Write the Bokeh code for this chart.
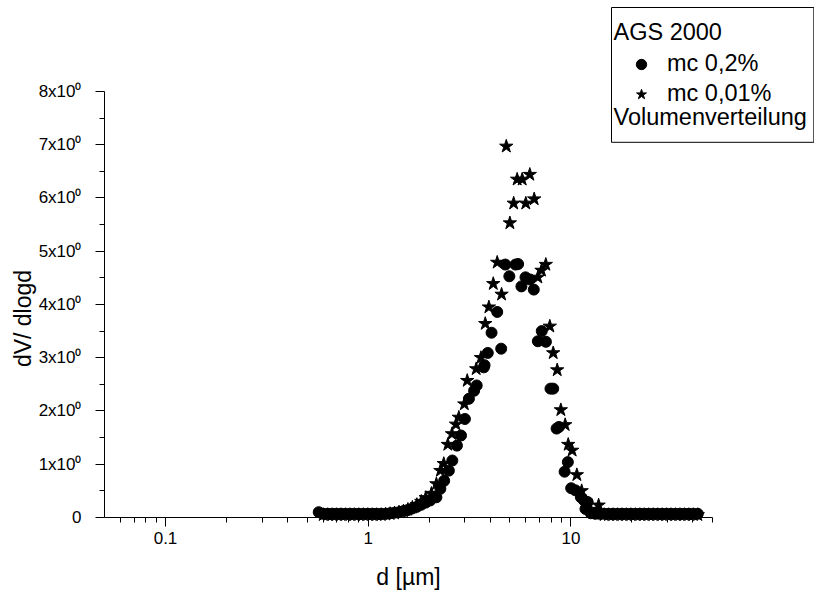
import math
from bokeh.plotting import figure
from bokeh.models import FixedTicker, Range1d, Label, Legend, LegendItem
from bokeh.embed import file_html
from bokeh.resources import INLINE

# ---- data ----
# series "mc 0,2%" (circles)
circle_d = [0.570, 0.600, 0.631, 0.664, 0.698, 0.734, 0.773, 0.813, 0.855, 0.899,
            0.946, 0.995, 1.047, 1.101, 1.159, 1.219, 1.282, 1.349, 1.419, 1.493,
            1.570, 1.652, 1.738, 1.828, 1.923, 2.023, 2.17, 2.27, 2.37, 2.50,
            2.60, 2.74, 2.87, 3.00, 3.14, 3.33, 3.43, 3.72, 3.75, 3.89,
            4.06, 4.33, 4.53, 4.75, 4.97, 5.33, 5.49, 5.70, 5.97, 6.27,
            6.56, 6.87, 7.18, 7.53, 7.93, 8.18, 8.50, 8.73, 9.31, 9.66,
            10.03, 10.53, 11.2, 11.6, 11.8, 12.1, 12.53, 13.18, 13.87, 14.59,
            15.35, 16.14, 16.98, 17.87, 18.79, 19.77, 20.80, 21.88, 23.01, 24.21,
            25.47, 26.79, 28.18, 29.65, 31.19, 32.81, 34.51, 36.31, 38.19, 40.18,
            42.27]
circle_v = [0.10, 0.07, 0.07, 0.07, 0.07, 0.07, 0.07, 0.07, 0.07, 0.07,
            0.07, 0.07, 0.07, 0.07, 0.07, 0.07, 0.08, 0.09, 0.10, 0.12,
            0.14, 0.17, 0.20, 0.24, 0.28, 0.32, 0.38, 0.54, 0.69, 0.88,
            1.07, 1.35, 1.54, 1.85, 2.23, 2.38, 2.48, 2.82, 2.86, 3.09,
            3.47, 3.86, 3.17, 4.75, 4.53, 4.75, 4.76, 4.34, 4.51, 4.47,
            4.28, 3.31, 3.50, 3.30, 2.42, 2.42, 1.67, 1.70, 0.86, 1.04,
            0.55, 0.51, 0.38, 0.32, 0.16, 0.29, 0.08, 0.07, 0.07, 0.07,
            0.07, 0.07, 0.07, 0.07, 0.07, 0.07, 0.07, 0.07, 0.07, 0.07,
            0.07, 0.07, 0.07, 0.07, 0.07, 0.07, 0.07, 0.07, 0.07, 0.07,
            0.07]

# series "mc 0,01%" (stars)
star_d = [0.600, 0.631, 0.664, 0.698, 0.734, 0.773, 0.813, 0.855, 0.899, 0.946,
          0.995, 1.047, 1.101, 1.159, 1.219, 1.282, 1.349, 1.419, 1.493, 1.570,
          1.652, 1.738, 1.828, 1.923, 2.05, 2.17, 2.27, 2.36, 2.47, 2.59,
          2.71, 2.80, 2.98, 3.08, 3.41, 3.60, 3.78, 3.94, 4.14, 4.33,
          4.55, 4.80, 5.00, 5.22, 5.43, 5.75, 5.99, 6.27, 6.59, 6.87,
          7.16, 7.52, 7.87, 8.18, 8.56, 8.92, 9.37, 9.70, 10.14, 10.7,
          11.3, 11.9, 12.5, 13.7, 14.59, 15.35, 16.14, 16.98, 17.87, 18.79,
          19.77, 20.80, 21.88, 23.01, 24.21, 25.47, 26.79, 28.18, 29.65, 31.19,
          32.81, 34.51, 36.31, 38.19, 40.18, 42.27]
star_v = [0.05, 0.05, 0.05, 0.05, 0.05, 0.05, 0.05, 0.05, 0.05, 0.05,
          0.05, 0.05, 0.05, 0.05, 0.06, 0.07, 0.08, 0.10, 0.12, 0.15,
          0.19, 0.24, 0.30, 0.37, 0.45, 0.63, 0.88, 1.01, 1.37, 1.57,
          1.75, 1.88, 2.13, 2.57, 2.79, 3.00, 3.64, 3.95, 4.39, 4.79,
          4.19, 6.97, 5.53, 5.90, 6.35, 6.35, 5.90, 6.44, 5.98, 4.51,
          4.64, 4.75, 3.59, 3.09, 2.77, 2.02, 1.74, 1.37, 1.26, 0.80,
          0.50, 0.30, 0.15, 0.23, 0.05, 0.05, 0.05, 0.05, 0.05, 0.05,
          0.05, 0.05, 0.05, 0.05, 0.05, 0.05, 0.05, 0.05, 0.05, 0.05,
          0.05, 0.05, 0.05, 0.05, 0.05, 0.05]

series_names = ["mc 0,2%", "mc 0,01%"]
legend_title = "AGS 2000"
legend_footer = "Volumenverteilung"
x_title = "d [\u00b5m]"
y_title = "dV/ dlogd"

x_axis_span = (0.05, 50)      # drawn extent of the x axis
y_axis_span = (0, 8)          # drawn extent of the y axis
x_ticks = [0.1, 1, 10]
x_tick_labels = ["0.1", "1", "10"]
x_minor = [0.06, 0.07, 0.08, 0.09, 0.2, 0.3, 0.4, 0.5, 0.6, 0.7, 0.8, 0.9,
           2, 3, 4, 5, 6, 7, 8, 9, 20, 30, 40, 50]
y_ticks = [0, 1, 2, 3, 4, 5, 6, 7, 8]
y_tick_labels = ["0", "1x10\u2070", "2x10\u2070", "3x10\u2070", "4x10\u2070",
                 "5x10\u2070", "6x10\u2070", "7x10\u2070", "8x10\u2070"]
y_minor = [0.5, 1.5, 2.5, 3.5, 4.5, 5.5, 6.5, 7.5]

FONT = "Liberation Sans"

# The plotting frame covers the whole canvas, so the legend box and the
# titles (which sit outside the axes) are not clipped.  The axes are drawn
# at fixed locations (x axis at y=0, y axis at d=0.05) and limited to their
# spans with `bounds`.
p = figure(width=814, height=592, x_axis_type="log",
           x_range=Range1d(0.015343, 159.15), y_range=Range1d(-1.4085, 9.7089),
           output_backend="svg", toolbar_location=None,
           min_border_left=0, min_border_right=0,
           min_border_top=0, min_border_bottom=0)
p.outline_line_color = None
p.xgrid.visible = False
p.ygrid.visible = False
p.background_fill_color = "white"
p.border_fill_color = "white"

r1 = p.scatter(circle_d, circle_v, marker="circle", size=11,
               fill_color="black", line_color="black")
r2 = p.scatter(star_d, star_v, marker="star", size=14,
               fill_color="black", line_color="black")

# axes
for ax in (p.xaxis[0], p.yaxis[0]):
    ax.axis_line_color = "black"
    ax.axis_line_width = 1
    ax.major_tick_line_color = "black"
    ax.minor_tick_line_color = "black"
    ax.major_tick_out = 9
    ax.major_tick_in = 0
    ax.minor_tick_out = 5
    ax.minor_tick_in = 0
    ax.major_label_text_font = FONT
    ax.major_label_text_font_size = "17px"
    ax.major_label_text_color = "black"
    ax.axis_label_text_font = FONT
    ax.axis_label_text_font_size = "23px"
    ax.axis_label_text_font_style = "normal"
    ax.axis_label_text_color = "black"

p.xaxis.fixed_location = y_axis_span[0]
p.xaxis.bounds = x_axis_span
p.xaxis.ticker = FixedTicker(ticks=x_ticks, minor_ticks=x_minor)
p.xaxis.major_label_overrides = dict(zip(x_ticks, x_tick_labels))
p.xaxis.major_label_standoff = 6
p.xaxis.axis_label = x_title
p.xaxis.axis_label_standoff = 16

p.yaxis.fixed_location = x_axis_span[0]
p.yaxis.bounds = y_axis_span
p.yaxis.ticker = FixedTicker(ticks=y_ticks, minor_ticks=y_minor)
p.yaxis.major_label_overrides = dict(zip(y_ticks, y_tick_labels))
p.yaxis.major_label_standoff = 14

# y axis title (rotated), placed left of the tick labels
ylab = Label(x=22, y=274, x_units="screen", y_units="screen", text=y_title,
             angle=math.pi / 2, text_align="center", text_baseline="middle",
             text_font=FONT, text_font_size="23px", text_color="black")
p.add_layout(ylab)

# legend box (border + title + footer)
box = Label(x=611, y=585, x_units="screen", y_units="screen",
            text=legend_title + "\n\n\n" + legend_footer,
            text_font=FONT, text_font_size="23.5px", text_line_height=1.10,
            text_align="left", text_baseline="top", text_color="black",
            border_line_color="black", border_line_width=1,
            background_fill_color="white",
            padding=dict(top=11, bottom=12, left=2, right=7))
p.add_layout(box)

legend = Legend(items=[LegendItem(label=series_names[0], renderers=[r1]),
                       LegendItem(label=series_names[1], renderers=[r2])],
                location=(628, 485), padding=0, spacing=3, margin=0,
                glyph_width=26, glyph_height=26, label_height=26,
                label_standoff=13, label_text_font=FONT,
                label_text_font_size="23.5px", label_text_color="black",
                border_line_color=None, background_fill_alpha=0)
p.add_layout(legend)

open("out.html", "w").write(file_html(p, INLINE))
